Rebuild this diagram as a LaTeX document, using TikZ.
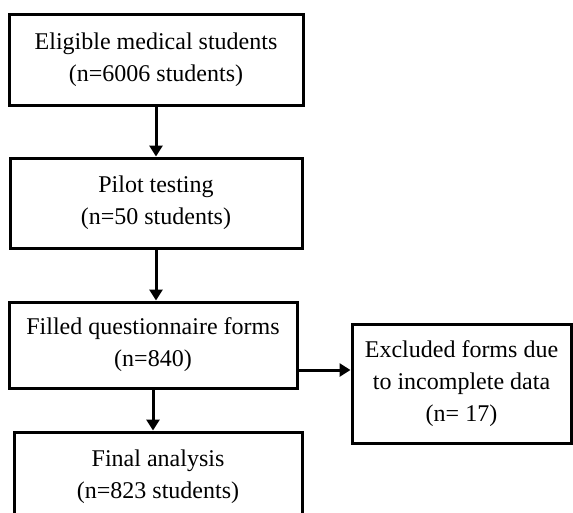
\documentclass[tikz,border=0pt]{standalone}
\usepackage{fontspec}
\setmainfont{Liberation Serif}
\usepackage{tikz}
\usetikzlibrary{arrows.meta}
\tikzset{
  stage/.style={draw, line width=3pt, inner sep=0pt, align=center,
    font=\fontsize{24}{32}\selectfont},
  flow/.style={line width=3pt, -{Triangle[length=11pt,width=13pt]}}
}

\begin{document}
\begin{tikzpicture}[x=1pt, y=-1pt]
\path[use as bounding box] (0,0) rectangle (573,512);
\clip (0,0) rectangle (573,512);
% boxes, pixel positions of the reference
\node[stage, minimum width=294pt, minimum height=91pt] (eligible) at (156,59.5)
{Eligible medical students\\(n=6006 students)};
\node[stage, minimum width=292pt, minimum height=90pt] (pilot) at (156,203)
{Pilot testing\\(n=50 students)};
\node[stage, minimum width=288pt, minimum height=86pt] (filled) at (153,345)
{Filled questionnaire forms\\(n=840)};
\node[stage, minimum width=219pt, minimum height=119pt] (excluded) at (461.5,383.5)
{Excluded forms due\\to incomplete data\\(n= 17)};
\node[stage, minimum width=288pt, minimum height=90pt] (final) at (158,477)
{Final analysis\\(n=823 students)};
% arrows
\draw[flow] (eligible.south) -- (eligible.south |- pilot.north);
\draw[flow] (pilot.south) -- (pilot.south |- filled.north);
\draw[flow] (filled.south) -- (filled.south |- final.north);
\coordinate (tap) at ([yshift=-25pt]filled.east);
\draw[flow] (tap) -- (tap -| excluded.west);
\end{tikzpicture}
\end{document}
